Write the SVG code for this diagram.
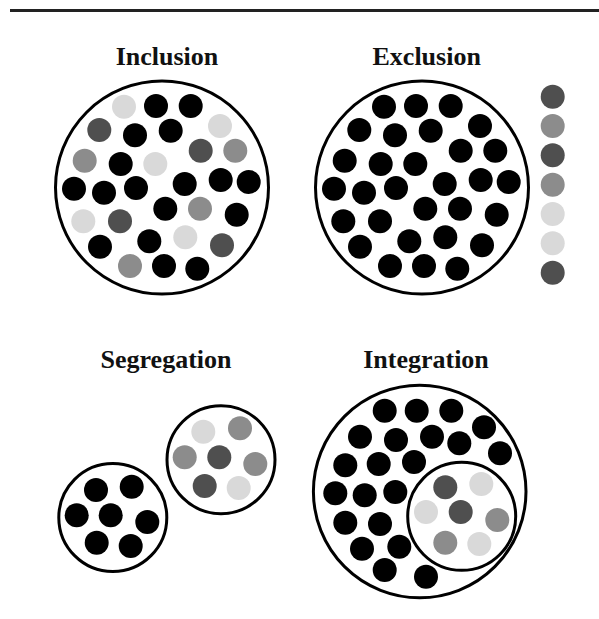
<svg xmlns="http://www.w3.org/2000/svg" width="599" height="619" viewBox="0 0 599 619">
  <style>
    .title { font-family: "Liberation Serif", "DejaVu Serif", serif; font-weight: bold; font-size: 26px; fill: #111; text-anchor: middle; }
    .ring { fill: #fff; stroke: #000; stroke-width: 3; }
    .k { fill: #000; }
    .d { fill: #4f4f4f; }
    .m { fill: #8c8c8c; }
    .l { fill: #d9d9d9; }
  </style>

  <rect width="599" height="619" fill="#fff"/>
  <line x1="10" y1="10.5" x2="599" y2="10.5" stroke="#222" stroke-width="3"/>

  <!-- Inclusion: mixed shades inside one ring -->
  <g id="inclusion">
    <text class="title" x="167" y="65">Inclusion</text>
    <circle class="ring" cx="162" cy="187.5" r="106.5"/>
    <circle class="l" cx="124" cy="106.7" r="12"/>
    <circle class="k" cx="156" cy="106" r="12"/>
    <circle class="k" cx="190.7" cy="106" r="12"/>
    <circle class="d" cx="99.3" cy="130" r="12"/>
    <circle class="k" cx="135" cy="135.3" r="12"/>
    <circle class="k" cx="170.7" cy="130.7" r="12"/>
    <circle class="l" cx="220" cy="126" r="12"/>
    <circle class="d" cx="200.7" cy="150.7" r="12"/>
    <circle class="m" cx="235.3" cy="150.7" r="12"/>
    <circle class="m" cx="84.7" cy="160.7" r="12"/>
    <circle class="k" cx="120.7" cy="164" r="12"/>
    <circle class="l" cx="155.3" cy="164" r="12"/>
    <circle class="k" cx="74" cy="188.7" r="12"/>
    <circle class="k" cx="104" cy="192.7" r="12"/>
    <circle class="k" cx="136" cy="188" r="12"/>
    <circle class="k" cx="184.7" cy="184" r="12"/>
    <circle class="k" cx="220.7" cy="180" r="12"/>
    <circle class="k" cx="248.7" cy="182" r="12"/>
    <circle class="k" cx="165.3" cy="208.7" r="12"/>
    <circle class="m" cx="200" cy="208.7" r="12"/>
    <circle class="k" cx="236.7" cy="214.7" r="12"/>
    <circle class="l" cx="83.3" cy="221.3" r="12"/>
    <circle class="d" cx="120" cy="221.3" r="12"/>
    <circle class="k" cx="100" cy="246.7" r="12"/>
    <circle class="k" cx="149.3" cy="241.3" r="12"/>
    <circle class="l" cx="185.3" cy="237.3" r="12"/>
    <circle class="d" cx="222" cy="245.3" r="12"/>
    <circle class="m" cx="130" cy="266" r="12"/>
    <circle class="k" cx="164" cy="266" r="12"/>
    <circle class="k" cx="197.3" cy="268.7" r="12"/>
  </g>

  <!-- Exclusion: one shade inside, the others left outside -->
  <g id="exclusion">
    <text class="title" x="426.7" y="65">Exclusion</text>
    <circle class="ring" cx="422" cy="187.5" r="106.5"/>
    <g class="k">
      <circle cx="384" cy="106.7" r="12"/>
      <circle cx="416" cy="106" r="12"/>
      <circle cx="450.7" cy="106" r="12"/>
      <circle cx="359.3" cy="130" r="12"/>
      <circle cx="395" cy="135.3" r="12"/>
      <circle cx="430.7" cy="130.7" r="12"/>
      <circle cx="480" cy="126" r="12"/>
      <circle cx="460.7" cy="150.7" r="12"/>
      <circle cx="495.3" cy="150.7" r="12"/>
      <circle cx="344.7" cy="160.7" r="12"/>
      <circle cx="380.7" cy="164" r="12"/>
      <circle cx="415.3" cy="164" r="12"/>
      <circle cx="334" cy="188.7" r="12"/>
      <circle cx="364" cy="192.7" r="12"/>
      <circle cx="396" cy="188" r="12"/>
      <circle cx="444.7" cy="184" r="12"/>
      <circle cx="480.7" cy="180" r="12"/>
      <circle cx="508.7" cy="182" r="12"/>
      <circle cx="425.3" cy="208.7" r="12"/>
      <circle cx="460" cy="208.7" r="12"/>
      <circle cx="496.7" cy="214.7" r="12"/>
      <circle cx="343.3" cy="221.3" r="12"/>
      <circle cx="380" cy="221.3" r="12"/>
      <circle cx="360" cy="246.7" r="12"/>
      <circle cx="409.3" cy="241.3" r="12"/>
      <circle cx="445.3" cy="237.3" r="12"/>
      <circle cx="482" cy="245.3" r="12"/>
      <circle cx="390" cy="266" r="12"/>
      <circle cx="424" cy="266" r="12"/>
      <circle cx="457.3" cy="268.7" r="12"/>
    </g>
  </g>

  <g id="excluded-column">
    <circle class="d" cx="552.7" cy="96.7" r="12"/>
    <circle class="m" cx="552.7" cy="126" r="12"/>
    <circle class="d" cx="552.7" cy="155.3" r="12"/>
    <circle class="m" cx="552.7" cy="184.7" r="12"/>
    <circle class="l" cx="552.7" cy="214" r="12"/>
    <circle class="l" cx="552.7" cy="243.3" r="12"/>
    <circle class="d" cx="552.7" cy="272.7" r="12"/>
  </g>

  <!-- Segregation: two separate rings -->
  <g id="segregation">
    <text class="title" x="166" y="368">Segregation</text>
    <circle class="ring" cx="221" cy="459.7" r="54"/>
    <circle class="l" cx="203.3" cy="431.7" r="12"/>
    <circle class="m" cx="240" cy="428.3" r="12"/>
    <circle class="m" cx="184.7" cy="457.3" r="12"/>
    <circle class="d" cx="219.3" cy="457.3" r="12"/>
    <circle class="m" cx="255.3" cy="464" r="12"/>
    <circle class="d" cx="204.7" cy="486" r="12"/>
    <circle class="l" cx="238.7" cy="488" r="12"/>

    <circle class="ring" cx="112.8" cy="517.5" r="54"/>
    <g class="k">
      <circle cx="96" cy="490" r="12"/>
      <circle cx="131.7" cy="486.7" r="12"/>
      <circle cx="76.7" cy="515.3" r="12"/>
      <circle cx="110.7" cy="515.3" r="12"/>
      <circle cx="147.3" cy="522" r="12"/>
      <circle cx="96.7" cy="542.7" r="12"/>
      <circle cx="130.7" cy="546" r="12"/>
    </g>
  </g>

  <!-- Integration: the smaller ring sits inside the larger one -->
  <g id="integration">
    <text class="title" x="426" y="368">Integration</text>
    <circle class="ring" cx="419.7" cy="491.5" r="106.3"/>
    <g class="k">
      <circle cx="384.7" cy="410.7" r="12"/>
      <circle cx="416.7" cy="410.7" r="12"/>
      <circle cx="451.3" cy="410.7" r="12"/>
      <circle cx="484" cy="427.3" r="12"/>
      <circle cx="360" cy="436.7" r="12"/>
      <circle cx="396" cy="440" r="12"/>
      <circle cx="432" cy="436.7" r="12"/>
      <circle cx="459.3" cy="443.3" r="12"/>
      <circle cx="500" cy="453.3" r="12"/>
      <circle cx="345.3" cy="465.3" r="12"/>
      <circle cx="378.7" cy="464" r="12"/>
      <circle cx="414" cy="462" r="12"/>
      <circle cx="335.3" cy="493.3" r="12"/>
      <circle cx="364.7" cy="495.3" r="12"/>
      <circle cx="395.3" cy="492" r="12"/>
      <circle cx="345.3" cy="522.7" r="12"/>
      <circle cx="380" cy="524" r="12"/>
      <circle cx="362" cy="548.7" r="12"/>
      <circle cx="399.3" cy="546.7" r="12"/>
      <circle cx="384.7" cy="570" r="12"/>
      <circle cx="426" cy="576.7" r="12"/>
    </g>
    <circle class="ring" cx="461.7" cy="516.3" r="54"/>
    <circle class="d" cx="445.3" cy="487.3" r="12"/>
    <circle class="l" cx="481.3" cy="484" r="12"/>
    <circle class="l" cx="426" cy="512" r="12"/>
    <circle class="d" cx="460.7" cy="512" r="12"/>
    <circle class="m" cx="497.3" cy="520" r="12"/>
    <circle class="m" cx="445.3" cy="542.7" r="12"/>
    <circle class="l" cx="479.3" cy="544" r="12"/>
  </g>
</svg>
